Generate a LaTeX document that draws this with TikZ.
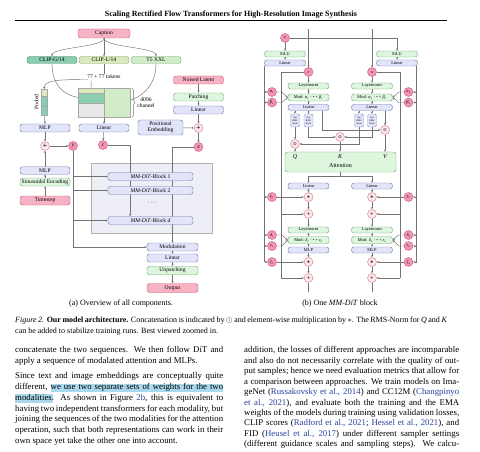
\documentclass[tikz,border=0pt]{standalone}
\usepackage{fontspec}
\usepackage{graphicx}
\setmainfont{Liberation Serif}
\newfontfamily\symfont{DejaVu Sans}
\usetikzlibrary{arrows.meta,decorations.pathreplacing,calc}
\definecolor{pnkF}{RGB}{247,178,196}
\definecolor{pnkD}{RGB}{205,90,125}
\definecolor{varF}{RGB}{242,150,182}
\definecolor{opF}{RGB}{252,230,232}
\definecolor{opD}{RGB}{215,130,150}
\definecolor{grnF}{RGB}{222,245,222}
\definecolor{grnD}{RGB}{115,175,115}
\definecolor{lavF}{RGB}{226,229,250}
\definecolor{lavD}{RGB}{115,120,175}
\definecolor{tealF}{RGB}{140,206,176}
\definecolor{tealD}{RGB}{70,140,110}
\definecolor{ylgF}{RGB}{218,234,188}
\definecolor{ylgD}{RGB}{140,165,95}
\definecolor{tfF}{RGB}{210,236,200}
\definecolor{boxF}{RGB}{238,238,246}
\definecolor{lineC}{RGB}{115,115,115}
\definecolor{citeC}{RGB}{40,65,160}
\definecolor{hlC}{RGB}{170,216,236}
\newcommand\fA{\fontsize{5.6}{6.2}\selectfont}
\newcommand\fB{\fontsize{4.4}{5}\selectfont}
\newcommand\fC{\fontsize{2.4}{2.8}\selectfont}
\newcommand\fBody{\fontsize{8.8}{10.8}\selectfont}
\newcommand\fCap{\fontsize{8}{9.6}\selectfont}
\newcommand\ct[1]{\textcolor{citeC}{#1}}
\newcommand\sbs[1]{\textsubscript{\textit{#1}}}
\pgfdeclarelayer{bgwhite}
\pgfdeclarelayer{bgfill}
\pgfdeclarelayer{bgline}
\pgfsetlayers{bgwhite,bgfill,bgline,main}
\begin{document}
\begin{tikzpicture}[x=1pt,y=-1pt,
  bx/.style={draw, rounded corners=2.6pt, line width=0.45pt, inner sep=0pt, align=center},
  lav/.style={bx, fill=lavF, draw=lavD},
  grn/.style={bx, fill=grnF, draw=grnD},
  pnk/.style={bx, fill=pnkF, draw=pnkD},
  la/.style={font=\fA, minimum width=50pt, minimum height=8pt},
  rb/.style={font=\fB, minimum width=41pt, minimum height=6pt},
  vr/.style={circle, draw=pnkD, fill=varF, inner sep=0pt, minimum size=9pt, line width=0.45pt, font=\fB},
  opc/.style={circle, draw=opD, fill=opF, inner sep=0pt, minimum size=9pt, line width=0.45pt, font=\fB\symfont},
  optb/.style={bx, fill=lavF, draw=lavD, dash pattern=on 0.8pt off 0.6pt, rounded corners=1.5pt, minimum width=9pt, minimum height=13pt, font=\fC},
  cell/.style={draw=gray!70, line width=0.35pt, inner sep=0pt, anchor=north west},
  cn/.style={draw=lineC, line width=0.45pt},
  ar/.style={cn, -{Stealth[length=2.2pt,width=2pt]}},
  bodyl/.style={anchor=base west, inner sep=0pt, font=\fBody}
]
\begin{pgfonlayer}{bgwhite}
\fill[white] (0,0) rectangle (480,452);
\end{pgfonlayer}
\useasboundingbox (0,0) rectangle (480,452);

% ---------- title ----------
\node[inner sep=0pt, font=\bfseries] (title) at (231,15) {\resizebox{252pt}{!}{Scaling Rectified Flow Transformers for High-Resolution Image Synthesis}};
\coordinate (ruleA) at (15,20.5);
\coordinate (ruleB) at (447,20.5);
\draw[line width=0.8pt] (ruleA) -- (ruleB);

% ---------- (a) overview ----------
\node[pnk, font=\fA, minimum width=52pt, minimum height=9pt] (cap) at (104,33.5) {Caption};
\node[bx, fill=tealF, draw=tealD, font=\fA, minimum width=50pt, minimum height=7pt] (clipg) at (52,60) {CLIP-G/14};
\node[bx, fill=ylgF, draw=ylgD, font=\fA, minimum width=50pt, minimum height=7pt] (clipl) at (104,60) {CLIP-L/14};
\node[bx, fill=tfF, draw=grnD, font=\fA, minimum width=50pt, minimum height=7pt] (tfive) at (156,60) {T5 XXL};
\node[font=\fA, inner sep=0.5pt] (tok) at (104,76.5) {77 + 77 tokens};

\node[cell, fill=ylgF, minimum width=26pt, minimum height=5pt] (mtop) at (78,88) {};
\node[cell, fill=tealF, minimum width=26pt, minimum height=10pt] (mmid) at (78,93) {};
\node[cell, fill=gray!18, minimum width=26pt, minimum height=14pt] (mbot) at (78,103) {};
\node[cell, fill=tfF, minimum width=26pt, minimum height=29pt] (mright) at (104,88) {};
\node[font=\fA, align=center, inner sep=0pt] (chan) at (146,102.5) {4096\\channel};

\node[cell, fill=ylgF, minimum width=6pt, minimum height=7pt] (ptop) at (41,89) {};
\node[cell, fill=tealF, minimum width=6pt, minimum height=10pt] (pmid) at (41,96) {};
\node[cell, fill=tealF, minimum width=6pt, minimum height=9pt] (pbot) at (41,106) {};
\node[font=\fA, rotate=90, inner sep=0pt] (pooled) at (36.5,102) {Pooled};

\node[pnk, la] (noised) at (198.5,80) {Noised Latent};
\node[grn, la] (patch) at (198.5,97) {Patching};
\node[lav, la] (linx) at (198.5,110) {Linear};
\node[lav, font=\fA, minimum width=45pt, minimum height=15pt] (posemb) at (160.5,127.5) {Positional\\Embedding};
\node[opc, font=\fA\symfont] (plusx) at (198.5,128) {+};
\node[vr, font=\fA\itshape] (xL) at (198.5,147) {x};

\node[lav, la] (mlpa) at (45,128) {MLP};
\node[lav, la] (linc) at (104,128) {Linear};
\node[opc, font=\fA\symfont] (plusy) at (45,146) {+};
\node[vr, font=\fA\itshape] (yL) at (73,146) {y};
\node[vr, font=\fA\itshape] (cL) at (103,145) {c};
\node[lav, la, minimum height=7.5pt] (mlpb) at (45,170.5) {MLP};
\node[grn, la] (sinus) at (45,182) {Sinusoidal Encoding};
\node[pnk, la, minimum height=9pt] (tstep) at (45,200.5) {Timestep};

\begin{pgfonlayer}{bgfill}
\node[draw=gray!60, fill=boxF, line width=0.45pt, minimum width=121pt, minimum height=70pt, anchor=north west, inner sep=0pt] (gbox) at (91,163) {};
\end{pgfonlayer}
\node[lav, font=\fA, minimum width=85pt, minimum height=8pt] (blka) at (150.5,176.5) {\textit{MM-DiT}-Block 1};
\node[lav, font=\fA, minimum width=85pt, minimum height=8pt] (blkb) at (150.5,190.5) {\textit{MM-DiT}-Block 2};
\node[font=\fA, inner sep=0pt] (dots) at (152,203) {· · ·};
\node[lav, font=\fA, minimum width=85pt, minimum height=8pt] (blkd) at (150.5,220.5) {\textit{MM-DiT}-Block \textit{d}};

\node[lav, la, minimum width=51pt] (modul) at (172.5,247) {Modulation};
\node[lav, la, minimum width=51pt] (linout) at (172.5,258) {Linear};
\node[grn, la, minimum width=51pt, minimum height=8.5pt] (unpatch) at (172.5,270.5) {Unpatching};
\node[pnk, la, minimum width=51pt, minimum height=9pt] (output) at (172.5,288) {Output};

\coordinate (tokL) at (88,79.5);
\coordinate (tokD) at (91,80.5);
\coordinate (mmidIn) at (86,98);
\coordinate (mrIn) at (119,102);
\coordinate (mB) at (104,117);
\coordinate (cx) at (130,0);

% ---------- (b) MM-DiT block ----------
\node[vr] (yR) at (285,38) {\textit{y}};
\node[grn, rb] (siluL) at (285,54) {SiLU};
\node[lav, rb] (linL) at (285,63) {Linear};
\node[grn, rb] (siluR) at (397,54) {SiLU};
\node[lav, rb] (linR) at (397,63) {Linear};
\node[vr] (cR) at (308.5,72) {\textit{c}};
\node[vr] (xR) at (372,72) {\textit{x}};
\coordinate (topc) at (308.5,29);
\coordinate (topx) at (372,29);

\node[grn, rb] (lnL) at (308.5,86) {Layernorm};
\node[grn, rb, minimum height=7pt] (modL) at (308.5,97.5) {Mod: \textit{α}\sbs{c} · • + \textit{β}\sbs{c}};
\node[lav, rb] (lintL) at (308.5,107.5) {Linear};
\node[grn, rb] (lnR) at (372,86) {Layernorm};
\node[grn, rb, minimum height=7pt] (modR) at (372,97.5) {Mod: \textit{α}\sbs{x} · • + \textit{β}\sbs{x}};
\node[lav, rb] (lintR) at (372,107.5) {Linear};

\node[optb] (optQL) at (295,120.5) {Opt\\RMS\\Norm};
\node[optb] (optKL) at (308.5,120.5) {Opt\\RMS\\Norm};
\node[optb] (optQR) at (359,120.5) {Opt\\RMS\\Norm};
\node[optb] (optKR) at (372,120.5) {Opt\\RMS\\Norm};
\coordinate (vL) at (322,0);

\node[opc] (qcat) at (295,144) {⊙};
\node[opc] (kcat) at (340,137) {⊙};
\node[opc] (vcat) at (385,130) {⊙};

\node[grn, minimum width=111pt, minimum height=20pt] (attn) at (340.5,162) {};
\node[inner sep=0pt, font=\fontsize{6}{7}\selectfont\itshape] (lq) at (295,156.5) {Q};
\node[inner sep=0pt, font=\fontsize{6}{7}\selectfont\itshape] (lk) at (340,156.5) {K};
\node[inner sep=0pt, font=\fontsize{6}{7}\selectfont\itshape] (lv) at (385,156.5) {V};
\node[inner sep=0pt, font=\fontsize{6}{7}\selectfont] (attnt) at (340.5,165.5) {Attention};

\node[lav, rb] (linAL) at (308.5,186) {Linear};
\node[lav, rb] (linAR) at (372,186) {Linear};
\node[opc] (mulL) at (308.5,197) {∗};
\node[opc] (mulR) at (372,197) {∗};
\node[opc] (addL) at (308.5,214) {+};
\node[opc] (addR) at (372,214) {+};
\node[grn, rb] (lnbL) at (308.5,230) {Layernorm};
\node[grn, rb] (lnbR) at (372,230) {Layernorm};
\node[grn, rb, minimum height=7pt] (modbL) at (308.5,240) {Mod: \textit{δ}\sbs{c} · • + \textit{ε}\sbs{c}};
\node[grn, rb, minimum height=7pt] (modbR) at (372,240) {Mod: \textit{δ}\sbs{x} · • + \textit{ε}\sbs{x}};
\node[lav, rb] (mlpL) at (308.5,250) {MLP};
\node[lav, rb] (mlpR) at (372,250) {MLP};
\node[opc] (mulbL) at (308.5,262) {∗};
\node[opc] (mulbR) at (372,262) {∗};
\node[opc] (addbL) at (308.5,278) {+};
\node[opc] (addbR) at (372,278) {+};
\coordinate (endL) at (308.5,292);
\coordinate (endR) at (372,292);

\node[vr] (alpL) at (272,92) {\textit{α}\sbs{c}};
\node[vr] (betL) at (272,102.5) {\textit{β}\sbs{c}};
\node[vr] (gamL) at (272,197) {\textit{γ}\sbs{c}};
\node[vr] (delL) at (272,235) {\textit{δ}\sbs{c}};
\node[vr] (epsL) at (272,246) {\textit{ε}\sbs{c}};
\node[vr] (zetL) at (272,262) {\textit{ζ}\sbs{c}};
\node[vr] (alpR) at (408.5,92) {\textit{α}\sbs{x}};
\node[vr] (betR) at (408.5,102.5) {\textit{β}\sbs{x}};
\node[vr] (gamR) at (408.5,197) {\textit{γ}\sbs{x}};
\node[vr] (delR) at (408.5,235) {\textit{δ}\sbs{x}};
\node[vr] (epsR) at (408.5,246) {\textit{ε}\sbs{x}};
\node[vr] (zetR) at (408.5,262) {\textit{ζ}\sbs{x}};
\coordinate (oL) at (264.5,0);
\coordinate (oR) at (416.5,0);
\coordinate (rL) at (281,0);
\coordinate (rR) at (400,0);

% ---------- connectors ----------
\begin{pgfonlayer}{bgline}
% (a)
\draw[ar] (cap.south) .. controls +(0,9) and +(0,-9) .. (clipg.north);
\draw[ar] (cap.south) -- (clipl.north);
\draw[ar] (cap.south) .. controls +(0,9) and +(0,-9) .. (tfive.north);
\draw[cn] (clipl.south) -- (tok.north);
\draw[ar] (tokL) .. controls (60,79.5) and (44,80) .. (ptop.north);
\draw[ar] (tokD) -- (mtop.center);
\draw[ar] (clipg.south) .. controls +(0,28) and +(-14,0) .. (mmidIn);
\draw[ar] (tfive.south) .. controls +(0,28) and +(14,0) .. (mrIn);
\draw[cn, decorate, decoration={brace, amplitude=2.5pt}] ($(mright.north east)+(2,0)$) -- ($(mright.south east)+(2,0)$);
\draw[ar] (pbot.south) -- (mlpa.north);
\draw[ar] (mB) -- (linc.north);
\draw[ar] (mlpa) -- (plusy);
\draw[ar] (plusy) -- (yL);
\draw[ar] (linc) -- (cL);
\draw[ar] (noised) -- (patch);
\draw[ar] (patch) -- (linx);
\draw[ar] (linx) -- (plusx);
\draw[ar] (posemb) -- (plusx);
\draw[ar] (plusx) -- (xL);
\draw[ar] (tstep) -- (sinus);
\draw[ar] (sinus) -- (mlpb);
\draw[ar] (mlpb) -- (plusy);
\draw[cn] (yL.south) -- (yL |- modul);
\draw[ar] (yL |- modul) -- (modul.west);
\draw[ar] (yL |- blka) -- (blka.west);
\draw[ar] (yL |- blkb) -- (blkb.west);
\draw[ar] (yL |- blkd) -- (blkd.west);
\draw[ar] (cL.east) -| (blkd.north -| cx);
\draw[ar] (xL.west) -| (modul.north);
\draw[ar] (modul) -- (linout);
\draw[ar] (linout) -- (unpatch);
\draw[ar] (unpatch) -- (output);
% (b)
\draw[ar] (topc) -- (cR.north);
\draw[ar] (topx) -- (xR.north);
\draw[ar] (yR.south) -- (siluL.north);
\draw[ar] (yR.east) -| (siluR.north);
\draw[ar] (siluL) -- (linL);
\draw[ar] (siluR) -- (linR);
\draw[cn] (linL.south -| oL) -- (zetL -| oL);
\draw[cn] (linR.south -| oR) -- (zetR -| oR);
\foreach \n in {alpL,betL,gamL,delL,epsL,zetL} {\draw[ar] (\n -| oL) -- (\n.west);}
\foreach \n in {alpR,betR,gamR,delR,epsR,zetR} {\draw[ar] (\n -| oR) -- (\n.east);}
\draw[cn] (cR.west) -- (cR.west -| rL) -- (addbL.west -| rL);
\draw[cn] (xR.east) -- (xR.east -| rR) -- (addbR.east -| rR);
\draw[ar] (addL.west -| rL) -- (addL.west);
\draw[ar] (addbL.west -| rL) -- (addbL.west);
\draw[ar] (addR.east -| rR) -- (addR.east);
\draw[ar] (addbR.east -| rR) -- (addbR.east);
\draw[ar] (alpL.east) -- ++(5,0) -- (modL.west);
\draw[ar] (betL.east) -- ++(5,0) -- (modL.west);
\draw[ar] (alpR.west) -- ++(-5,0) -- (modR.east);
\draw[ar] (betR.west) -- ++(-5,0) -- (modR.east);
\draw[ar] (gamL.east) -- (mulL.west);
\draw[ar] (gamR.west) -- (mulR.east);
\draw[ar] (delL.east) -- ++(5,0) -- (modbL.west);
\draw[ar] (epsL.east) -- ++(5,0) -- (modbL.west);
\draw[ar] (delR.west) -- ++(-5,0) -- (modbR.east);
\draw[ar] (epsR.west) -- ++(-5,0) -- (modbR.east);
\draw[ar] (zetL.east) -- (mulbL.west);
\draw[ar] (zetR.west) -- (mulbR.east);
\draw[ar] (cR) -- (lnL);
\draw[ar] (xR) -- (lnR);
\draw[ar] (lnL) -- (modL);
\draw[ar] (lnR) -- (modR);
\draw[ar] (modL) -- (lintL);
\draw[ar] (modR) -- (lintR);
\draw[ar] (lintL.south -| optQL) -- (optQL.north);
\draw[ar] (lintL.south -| optKL) -- (optKL.north);
\draw[ar] (lintR.south -| optQR) -- (optQR.north);
\draw[ar] (lintR.south -| optKR) -- (optKR.north);
\draw[ar] (lintL.south -| vL) |- (vcat.west);
\draw[ar] (lintR.south -| vcat) -- (vcat.north);
\draw[ar] (optQL.south) -- (qcat.north);
\draw[ar] (optQR.south) |- (qcat.east);
\draw[ar] (optKL.south) |- (kcat.west);
\draw[ar] (optKR.south) |- (kcat.east);
\draw[ar] (qcat.south) -- (qcat.south |- attn.north);
\draw[ar] (kcat.south) -- (kcat.south |- attn.north);
\draw[ar] (vcat.south) -- (vcat.south |- attn.north);
\draw[cn] (attn.south) -- ++(0,4) coordinate (split);
\draw[ar] (split) -| (linAL.north);
\draw[ar] (split) -| (linAR.north);
\draw[ar] (linAL) -- (mulL);
\draw[ar] (linAR) -- (mulR);
\draw[ar] (mulL) -- (addL);
\draw[ar] (mulR) -- (addR);
\draw[ar] (addL) -- (lnbL);
\draw[ar] (addR) -- (lnbR);
\draw[ar] (lnbL) -- (modbL);
\draw[ar] (lnbR) -- (modbR);
\draw[ar] (modbL) -- (mlpL);
\draw[ar] (modbR) -- (mlpR);
\draw[ar] (mlpL) -- (mulbL);
\draw[ar] (mlpR) -- (mulbR);
\draw[ar] (mulbL) -- (addbL);
\draw[ar] (mulbR) -- (addbR);
\draw[cn] (addbL) -- (endL);
\draw[cn] (addbR) -- (endR);
\end{pgfonlayer}

% ---------- captions ----------
\node[anchor=base, inner sep=0pt, font=\fCap] (suba) at (121,305) {(a) Overview of all components.};
\node[anchor=base, inner sep=0pt, font=\fCap] (subb) at (340,305) {(b) One \textit{MM-DiT} block};
\node[anchor=base west, inner sep=0pt, font=\fCap] (capA) at (15,322.7) {\hbox to 432pt{\textit{Figure 2.} \textbf{Our model architecture.} Concatenation is indicated by $\odot$ and element-wise multiplication by $*$. The RMS-Norm for \textit{Q} and \textit{K}}};
\node[anchor=base west, inner sep=0pt, font=\fCap] (capB) at (15,333.7) {can be added to stabilize training runs. Best viewed zoomed in.};

% ---------- body text ----------
\begin{pgfonlayer}{bgfill}
\fill[hlC] (51,383.5) rectangle (223,392.3);
\fill[hlC] (14.5,394.3) rectangle (53,403.1);
\end{pgfonlayer}
\node[bodyl] (l1) at (15,352.5) {\hbox to 208pt{concatenate the two sequences. We then follow DiT and}};
\node[bodyl] (l2) at (15,363.4) {apply a sequence of modalated attention and MLPs.};
\node[bodyl] (l3) at (15,378.6) {\hbox to 208pt{Since text and image embeddings are conceptually quite}};
\node[bodyl] (l4) at (15,389.4) {\hbox to 208pt{different, we use two separate sets of weights for the two}};
\node[bodyl] (l5) at (15,400.2) {\hbox to 208pt{modalities. As shown in Figure \ct{2b}, this is equivalent to}};
\node[bodyl] (l6) at (15,411.0) {\hbox to 208pt{having two independent transformers for each modality, but}};
\node[bodyl] (l7) at (15,421.8) {\hbox to 208pt{joining the sequences of the two modalities for the attention}};
\node[bodyl] (l8) at (15,432.6) {\hbox to 208pt{operation, such that both representations can work in their}};
\node[bodyl] (l9) at (15,443.2) {own space yet take the other one into account.};

\node[bodyl] (r1) at (244,352.7) {\hbox to 215pt{addition, the losses of different approaches are incomparable}};
\node[bodyl] (r2) at (244,363.2) {\hbox to 215pt{and also do not necessarily correlate with the quality of out-}};
\node[bodyl] (r3) at (244,373.6) {\hbox to 215pt{put samples; hence we need evaluation metrics that allow for}};
\node[bodyl] (r4) at (244,384.1) {\hbox to 215pt{a comparison between approaches. We train models on Ima-}};
\node[bodyl] (r5) at (244,394.5) {\hbox to 215pt{geNet (\ct{Russakovsky et al., 2014}) and CC12M (\ct{Changpinyo}}};
\node[bodyl] (r6) at (244,405.0) {\hbox to 215pt{\ct{et al., 2021}), and evaluate both the training and the EMA}};
\node[bodyl] (r7) at (244,415.4) {\hbox to 215pt{weights of the models during training using validation losses,}};
\node[bodyl] (r8) at (244,425.9) {\hbox to 215pt{CLIP scores (\ct{Radford et al., 2021}; \ct{Hessel et al., 2021}), and}};
\node[bodyl] (r9) at (244,436.3) {\hbox to 215pt{FID (\ct{Heusel et al., 2017}) under different sampler settings}};
\node[bodyl] (r10) at (244,446.8) {\hbox to 215pt{(different guidance scales and sampling steps). We calcu-}};
\end{tikzpicture}
\end{document}
